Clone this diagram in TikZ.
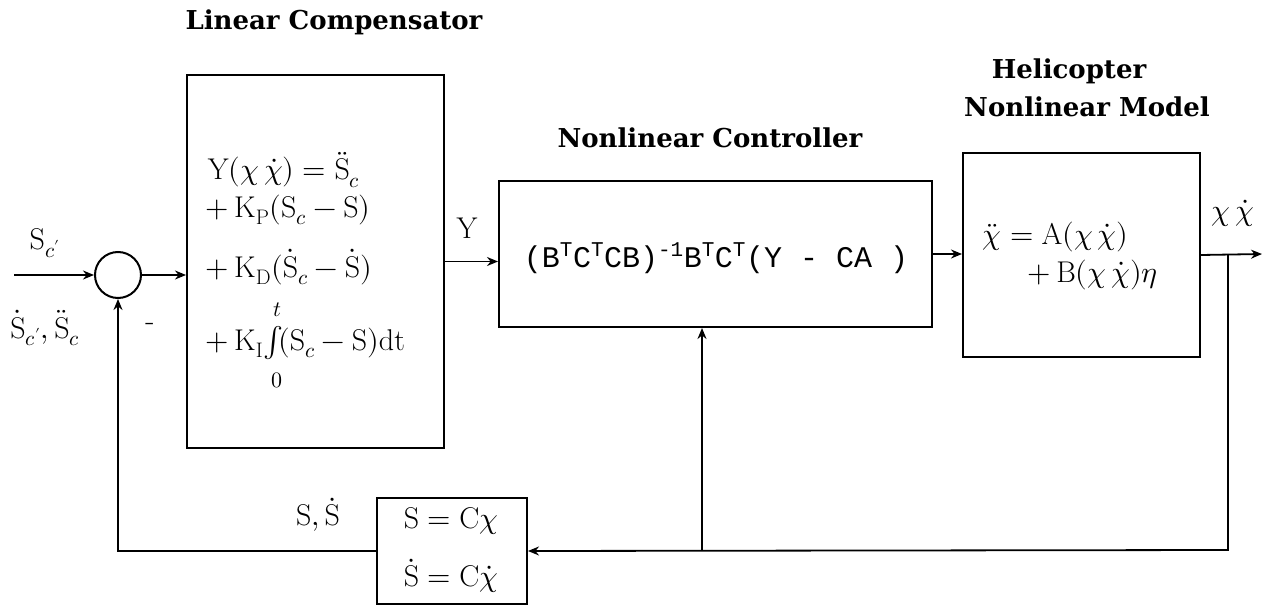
\documentclass[tikz,border=0pt]{standalone}
\usepackage{fontspec}
\usepackage{unicode-math}
\setmathfont{Latin Modern Math}
\newfontfamily\titlefont{DejaVu Serif}
\newfontfamily\monofont{Liberation Mono}
\usetikzlibrary{arrows.meta}
\begin{document}
\begin{tikzpicture}[x=1pt,y=-1pt,
  line width=1.8pt,
  >={Stealth[length=11pt,width=9pt]},
  blk/.style={draw,line width=2pt,inner sep=0pt,anchor=north west},
  ttl/.style={font=\titlefont\bfseries\fontsize{26}{30}\selectfont,inner sep=0pt},
  eq/.style={font=\fontsize{30}{36}\selectfont,inner sep=0pt},
  lbl/.style={font=\fontsize{30}{36}\selectfont,inner sep=0pt}]
\useasboundingbox (0,0) rectangle (1264,607);

% blocks
\node[blk,minimum width=257pt,minimum height=373pt] (lc) at (186,74) {};
\node[blk,minimum width=433pt,minimum height=146pt] (nc) at (498,180) {};
\node[blk,minimum width=237pt,minimum height=204pt] (hm) at (962,152) {};
\node[blk,minimum width=150pt,minimum height=106pt] (fb) at (376,497) {};
\node[draw,circle,line width=2pt,minimum size=46pt,inner sep=0pt] (sum) at (118,275) {};

% titles
\node[ttl] (tlc) at (334,22) {Linear Compensator};
\node[ttl] (tnc) at (710,138) {Nonlinear Controller};
\node[ttl] (thm1) at (1069,71) {Helicopter};
\node[ttl] (thm2) at (1087,107) {Nonlinear Model};

% linear compensator contents
\node[eq,anchor=west] (l1) at (207,170) {$\mathrm{Y}(\chi\,\dot{\chi}) = \ddot{\mathrm{S}}_{c}$};
\node[eq,anchor=west] (l2) at (205,210) {$+\,\mathrm{K}_{\mathrm{P}}(\mathrm{S}_{c} - \mathrm{S})$};
\node[eq,anchor=west] (l3) at (205,267) {$+\,\mathrm{K}_{\mathrm{D}}(\dot{\mathrm{S}}_{c} - \dot{\mathrm{S}})$};
\node[eq,anchor=west] (l4) at (205,343) {$+\,\mathrm{K}_{\mathrm{I}}\!\int\!(\mathrm{S}_{c} - \mathrm{S})\mathrm{dt}$};
\node[inner sep=0pt,font=\fontsize{22}{26}\selectfont] (lt) at (277,310) {$t$};
\node[inner sep=0pt,font=\fontsize{22}{26}\selectfont] (l0) at (277,380) {$0$};

% nonlinear controller contents
\node[inner sep=0pt,font=\monofont\fontsize{30}{36}\selectfont] (ncf) at (716,258)
  {(B\textsuperscript{T}C\textsuperscript{T}CB)\textsuperscript{-1}B\textsuperscript{T}C\textsuperscript{T}(Y - CA )};

% helicopter contents
\node[eq,anchor=west] (h1) at (982,237) {$\ddot{\chi} = \mathrm{A}(\chi\,\dot{\chi})$};
\node[eq,anchor=west] (h2) at (1027,275) {$+\,\mathrm{B}(\chi\,\dot{\chi})\eta$};

% feedback block contents
\node[eq] (f1) at (451,521) {$\mathrm{S} = \mathrm{C}\chi$};
\node[eq] (f2) at (451,576) {$\dot{\mathrm{S}} = \mathrm{C}\dot{\chi}$};

% labels
\node[lbl] (sc1) at (45,243) {$\mathrm{S}_{c'}$};
\node[lbl] (sc2) at (45,328) {$\dot{\mathrm{S}}_{c'},\ddot{\mathrm{S}}_{c}$};
\node[lbl] (minus) at (150,327) {-};
\node[lbl] (ylab) at (467,228) {$\mathrm{Y}$};
\node[lbl] (xlab) at (1233,213) {$\chi\,\dot{\chi}$};
\node[lbl] (slab) at (318,515) {$\mathrm{S},\dot{\mathrm{S}}$};

% connectors
\coordinate (in) at (14,275);
\coordinate (out) at (1262,254);
\coordinate (tap) at (1228,254);
\coordinate (corner) at (1228,550);
\coordinate (bj) at (702,550);

\draw[->] (in) -- (sum.west);
\draw[->] (sum.east) -- (sum.east -| lc.west);
\draw[->] (lc.east) -- (lc.east -| nc.west);
\draw[->] (nc.east) -- (nc.east -| hm.west);
\draw[->] (hm.east) -- (out);
\draw[->] (tap) -- (corner) -- (fb.east);
\draw[->] (bj) -- (bj |- nc.south);
\draw[->] (fb.west) -- (fb.west -| sum.south) -- (sum.south);
\end{tikzpicture}
\end{document}
